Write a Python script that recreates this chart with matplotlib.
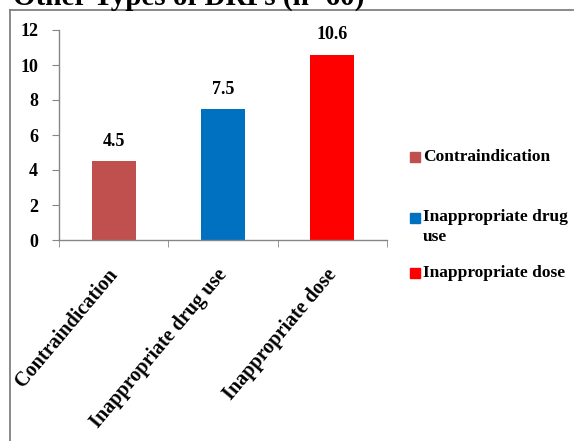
import matplotlib
matplotlib.use("Agg")
import matplotlib.pyplot as plt
from matplotlib.patches import Rectangle
from matplotlib.lines import Line2D
from matplotlib.transforms import ScaledTranslation

categories = ["Contraindication", "Inappropriate drug use", "Inappropriate dose"]
legend_labels = ["Contraindication", "Inappropriate drug\nuse", "Inappropriate dose"]
values = [4.5, 7.5, 10.6]
colors = ["#C0504D", "#0070C0", "#FF0000"]
yticks = [0, 2, 4, 6, 8, 10, 12]
title = "Other Types of DRPs (n=60)"

W, H = 574, 441
FONT = "Liberation Serif"
GRAY = "#868686"

fig = plt.figure(figsize=(W / 100, H / 100), dpi=100)
fig.patch.set_facecolor("white")


def fx(px):
    return px / W


def fy(py):
    return 1 - py / H


# outer frame (top and left edges)
fig.add_artist(Line2D([fx(10), fx(573)], [fy(9.5), fy(9.5)], color="#808080", lw=1.3))
fig.add_artist(Line2D([fx(10), fx(10)], [fy(9.5), 0], color="#808080", lw=1.3))

# title, partly running off the top edge
fig.text(fx(13), fy(5), title, fontsize=21, fontweight="bold", family=FONT,
         ha="left", va="baseline")

ax = fig.add_axes([fx(59), fy(240), fx(387) - fx(59), fy(30) - fy(240)])
x = list(range(len(categories)))
ax.bar(x, values, width=0.4, color=colors, zorder=2)
ax.set_xlim(-0.5, len(categories) - 0.5)
ax.set_ylim(0, 12)
ax.set_yticks(yticks)
ax.set_yticklabels([str(t) for t in yticks], fontsize=13, fontweight="bold", family=FONT)

for s in ["top", "right"]:
    ax.spines[s].set_visible(False)
for s in ["left", "bottom"]:
    ax.spines[s].set_color(GRAY)
    ax.spines[s].set_linewidth(1.0)

ax.tick_params(axis="y", direction="out", length=5, color=GRAY, pad=10)

# category boundaries as tick marks, labels at bar centres
ax.set_xticks(x)
ax.set_xticks([i - 0.5 for i in range(len(categories) + 1)], minor=True)
ax.tick_params(axis="x", which="major", length=0, pad=18)
ax.tick_params(axis="x", which="minor", direction="out", length=5, color=GRAY)
ax.set_xticklabels(categories, rotation=50, ha="right", va="top",
                   rotation_mode="anchor", fontsize=14.5, fontweight="bold", family=FONT)
shift = ScaledTranslation(-7 / 100, 0, fig.dpi_scale_trans)
for lbl in ax.get_xticklabels():
    lbl.set_transform(lbl.get_transform() + shift)

for xi, v in zip(x, values):
    ax.annotate(f"{v:g}", (xi, v), xytext=(0, 8), textcoords="offset points",
                ha="center", va="bottom", fontsize=13, fontweight="bold", family=FONT)

# legend drawn at the right
entries_y = [157, 218, 273]
for lab, col, yy in zip(legend_labels, colors, entries_y):
    fig.add_artist(Rectangle((fx(410), fy(yy + 5)), fx(10), fy(0) - fy(10),
                             transform=fig.transFigure, color=col))
    if "\n" in lab:
        fig.text(fx(423), fy(yy - 9), lab, fontsize=12.5, fontweight="bold", family=FONT,
                 ha="left", va="top", linespacing=1.3)
    else:
        fig.text(fx(423), fy(yy), lab, fontsize=12.5, fontweight="bold", family=FONT,
                 ha="left", va="center")

fig.savefig("out.png", dpi=100)
